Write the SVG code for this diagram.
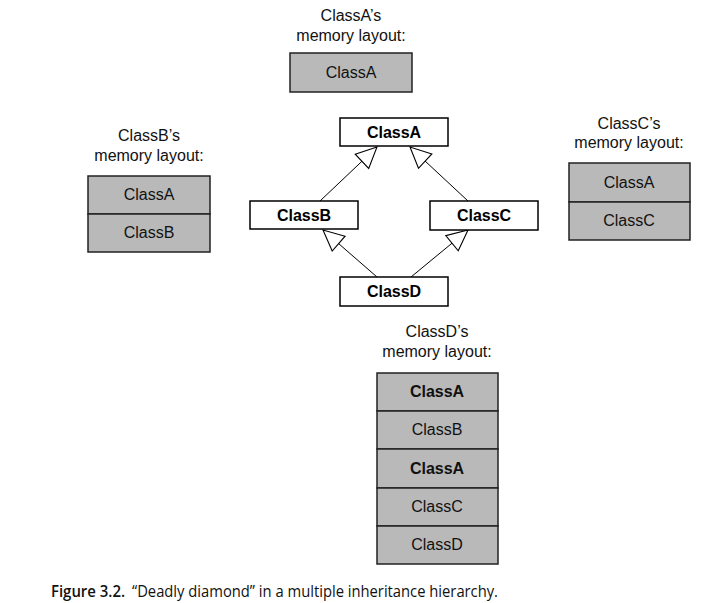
<svg xmlns="http://www.w3.org/2000/svg" width="704" height="603" viewBox="0 0 704 603">
<defs>
<style>
.lbl{font-family:"Liberation Sans",Arial,sans-serif;font-size:16px;fill:#111;text-anchor:middle}
.cell{fill:#b9b9b9;stroke:#222;stroke-width:1.5}
.cls{fill:#fff;stroke:#000;stroke-width:1.5}
.ct{font-family:"Liberation Sans",Arial,sans-serif;font-size:16px;font-weight:bold;fill:#000;text-anchor:middle}
.b{font-weight:bold}
.conn{stroke:#000;stroke-width:1;fill:none;marker-end:url(#tri)}
.cap{font-family:"Open Sans",Lato,sans-serif;font-size:16px;fill:#111}
</style>
<marker id="tri" markerUnits="userSpaceOnUse" markerWidth="24" markerHeight="24" viewBox="-20 -11 22 22" refX="0" refY="0" orient="auto">
<path d="M0,0 L-19,-9 L-19,9 Z" fill="#fff" stroke="#000" stroke-width="1"/>
</marker>
</defs>
<rect width="704" height="603" fill="#fff"/>

<g id="layoutA">
<text class="lbl" x="351" y="21">ClassA’s</text>
<text class="lbl" x="351" y="41">memory layout:</text>
<rect class="cell" x="290" y="53" width="122" height="39"/>
<text class="lbl" x="351" y="78">ClassA</text>
</g>

<g id="layoutB">
<text class="lbl" x="149" y="141">ClassB’s</text>
<text class="lbl" x="149" y="161">memory layout:</text>
<rect class="cell" x="88" y="176" width="122" height="38"/>
<rect class="cell" x="88" y="214" width="122" height="38"/>
<text class="lbl" x="149" y="200">ClassA</text>
<text class="lbl" x="149" y="238">ClassB</text>
</g>

<g id="layoutC">
<text class="lbl" x="629" y="129">ClassC’s</text>
<text class="lbl" x="629" y="148">memory layout:</text>
<rect class="cell" x="569" y="163" width="121" height="39"/>
<rect class="cell" x="569" y="202" width="121" height="38"/>
<text class="lbl" x="629" y="188">ClassA</text>
<text class="lbl" x="629" y="226">ClassC</text>
</g>

<g id="layoutD">
<text class="lbl" x="437" y="337">ClassD’s</text>
<text class="lbl" x="437" y="357">memory layout:</text>
<rect class="cell" x="377" y="373" width="121" height="38"/>
<rect class="cell" x="377" y="411" width="121" height="38"/>
<rect class="cell" x="377" y="449" width="121" height="39"/>
<rect class="cell" x="377" y="488" width="121" height="38"/>
<rect class="cell" x="377" y="526" width="121" height="38"/>
<text class="lbl b" x="437" y="397">ClassA</text>
<text class="lbl" x="437" y="435">ClassB</text>
<text class="lbl b" x="437" y="474">ClassA</text>
<text class="lbl" x="437" y="512">ClassC</text>
<text class="lbl" x="437" y="550">ClassD</text>
</g>

<g id="connectors">
<line class="conn" x1="320" y1="201" x2="377" y2="147"/>
<line class="conn" x1="468" y1="201" x2="410" y2="147"/>
<line class="conn" x1="377" y1="277" x2="323" y2="230"/>
<line class="conn" x1="411" y1="277" x2="468" y2="230"/>
</g>

<g id="ClassA">
<rect class="cls" x="340" y="118" width="108" height="28"/>
<text class="ct" x="394" y="138">ClassA</text>
</g>
<g id="ClassB">
<rect class="cls" x="250" y="201" width="108" height="28"/>
<text class="ct" x="304" y="221">ClassB</text>
</g>
<g id="ClassC">
<rect class="cls" x="430" y="201" width="108" height="29"/>
<text class="ct" x="484" y="221">ClassC</text>
</g>
<g id="ClassD">
<rect class="cls" x="340" y="277" width="108" height="29"/>
<text class="ct" x="394" y="297">ClassD</text>
</g>

<g id="caption">
<text class="cap" x="51" y="597" font-weight="600" textLength="74" lengthAdjust="spacingAndGlyphs">Figure 3.2.</text>
<text class="cap" x="132" y="597" textLength="366" lengthAdjust="spacingAndGlyphs">“Deadly diamond” in a multiple inheritance hierarchy.</text>
</g>
</svg>
